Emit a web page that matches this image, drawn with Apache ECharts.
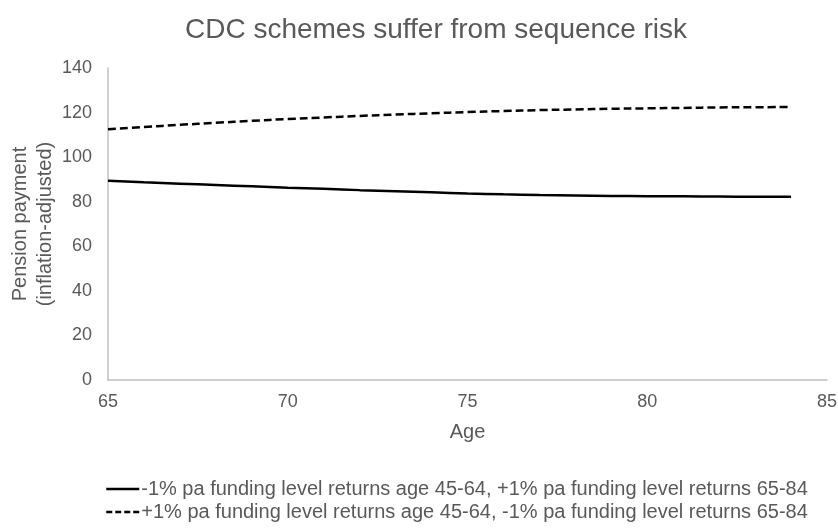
<!DOCTYPE html>
<html>
<head>
<meta charset="utf-8">
<script src="https://cdn.jsdelivr.net/npm/echarts@6/dist/echarts.min.js"></script>
<style>
  html, body { margin: 0; padding: 0; background: #fff; }
  #chart { width: 838px; height: 532px; }
</style>
</head>
<body>
<div id="chart"></div>
<script>
// Ages covered by the projection
const ages = [65, 66, 67, 68, 69, 70, 71, 72, 73, 74, 75, 76, 77, 78, 79, 80, 81, 82, 83, 84];

// Pension payment (inflation-adjusted) under each return sequence
const badThenGood = [89.4, 88.7, 88.1, 87.5, 86.9, 86.3, 85.8, 85.2, 84.7, 84.2,
                     83.7, 83.3, 83.0, 82.8, 82.6, 82.5, 82.4, 82.3, 82.2, 82.2];
const goodThenBad = [112.5, 113.5, 114.5, 115.4, 116.3, 117.1, 117.8, 118.5, 119.1, 119.7,
                     120.2, 120.7, 121.1, 121.4, 121.7, 121.9, 122.1, 122.3, 122.4, 122.5];

const seriesNames = [
  '-1% pa funding level returns age 45-64, +1% pa funding level returns 65-84',
  '+1% pa funding level returns age 45-64, -1% pa funding level returns 65-84'
];

const titleText = 'CDC schemes suffer from sequence risk';
const xName = 'Age';
const yName = 'Pension payment\n(inflation-adjusted)';

const pairs = vals => ages.map((a, i) => [a, vals[i]]);

const textColor = '#595959';
const axisColor = '#bfbfbf';
const font = 'Arial, "Liberation Sans", sans-serif';

const chart = echarts.init(document.getElementById('chart'), null, { renderer: 'canvas' });
chart.setOption({
  animation: false,
  backgroundColor: '#ffffff',
  title: {
    text: titleText,
    left: 431,
    textAlign: 'center',
    top: 11,
    textStyle: { color: textColor, fontSize: 28, fontWeight: 'normal', fontFamily: font }
  },
  grid: { left: 108, right: 11, top: 68, bottom: 152, containLabel: false, outerBoundsMode: 'none' },
  xAxis: {
    type: 'value',
    min: 65, max: 85, interval: 5,
    name: xName,
    nameLocation: 'middle',
    nameGap: 42,
    nameMoveOverlap: false,
    nameTextStyle: { color: textColor, fontSize: 20, fontFamily: font },
    axisLine: { show: true, lineStyle: { color: axisColor, width: 1.5 } },
    axisTick: { show: false },
    splitLine: { show: false },
    axisLabel: { color: textColor, fontSize: 18, fontFamily: font, margin: 13 }
  },
  yAxis: {
    type: 'value',
    min: 0, max: 140, interval: 20,
    name: yName,
    nameLocation: 'middle',
    nameGap: 50,
    nameMoveOverlap: false,
    nameTextStyle: { color: textColor, fontSize: 20, fontFamily: font, lineHeight: 25 },
    axisLine: { show: true, lineStyle: { color: axisColor, width: 1.5 } },
    axisTick: { show: false },
    splitLine: { show: false },
    axisLabel: { color: textColor, fontSize: 18, fontFamily: font, margin: 16 }
  },
  legend: {
    orient: 'vertical',
    left: 100,
    top: 474,
    itemWidth: 33,
    itemHeight: 10,
    itemGap: 3,
    itemStyle: { opacity: 0 },
    textStyle: { color: textColor, fontSize: 20, fontFamily: font, padding: [0, 0, 0, -3] },
    data: [
      { name: seriesNames[0], lineStyle: { type: 'solid', width: 2.5 } },
      { name: seriesNames[1], lineStyle: { type: [6, 3], width: 2.5 } }
    ]
  },
  series: [
    {
      name: seriesNames[0],
      type: 'line',
      data: pairs(badThenGood),
      symbol: 'none',
      smooth: true,
      lineStyle: { color: '#000', width: 2.5, type: 'solid' },
      itemStyle: { color: '#000' }
    },
    {
      name: seriesNames[1],
      type: 'line',
      data: pairs(goodThenBad),
      symbol: 'none',
      smooth: true,
      lineStyle: { color: '#000', width: 2.5, type: [8, 4] },
      itemStyle: { color: '#000' }
    }
  ]
});
</script>
</body>
</html>
